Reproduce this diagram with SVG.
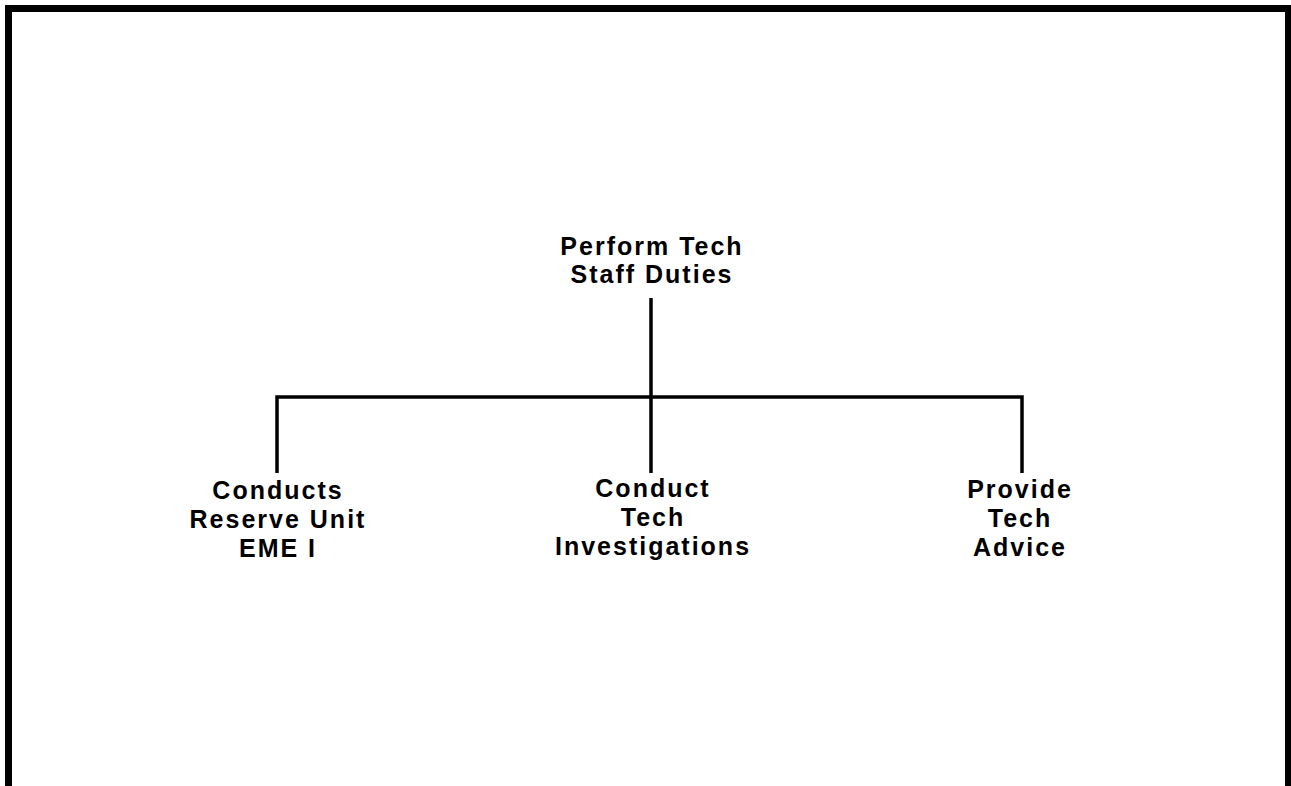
<svg xmlns="http://www.w3.org/2000/svg" width="1291" height="786" viewBox="0 0 1291 786">
<style>
.t{font-family:"Liberation Sans",Arial,sans-serif;font-weight:bold;font-size:25px;letter-spacing:2px;text-anchor:middle;fill:#000}
.c{stroke:#000;stroke-width:3.5;fill:none}
</style>
<rect width="1291" height="786" fill="#fff"/>
<path d="M8.5,786 V8.5 H1288.5 V786" fill="none" stroke="#000" stroke-width="7"/>
<g id="connectors">
<path class="c" d="M651,298 V473"/>
<path class="c" d="M277,473 V397 H1022 V473"/>
</g>
<g id="root"><text class="t" x="652" y="255">Perform Tech</text><text class="t" x="652" y="283">Staff Duties</text></g>
<g id="n1"><text class="t" x="278" y="499">Conducts</text><text class="t" x="278" y="528">Reserve Unit</text><text class="t" x="278" y="557">EME I</text></g>
<g id="n2"><text class="t" x="653" y="497">Conduct</text><text class="t" x="653" y="526">Tech</text><text class="t" x="653" y="555">Investigations</text></g>
<g id="n3"><text class="t" x="1020" y="498">Provide</text><text class="t" x="1020" y="527">Tech</text><text class="t" x="1020" y="556">Advice</text></g>
</svg>
